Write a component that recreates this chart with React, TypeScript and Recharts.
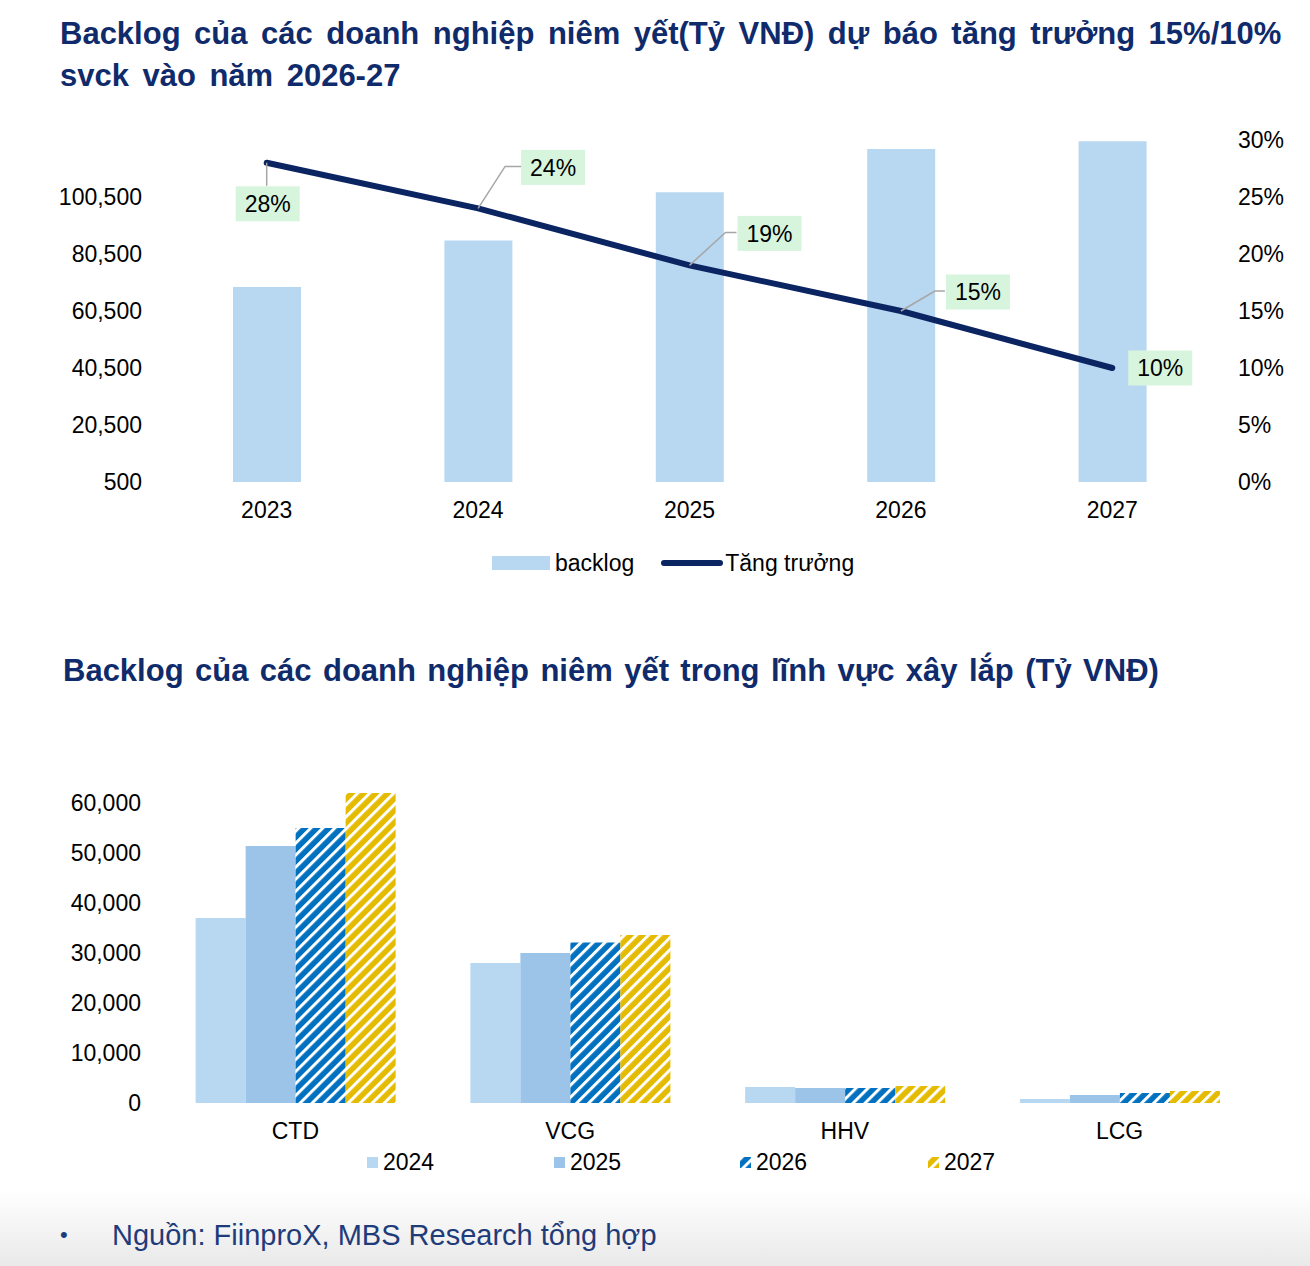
import {
  ComposedChart,
  BarChart,
  Bar,
  Line,
  XAxis,
  YAxis,
  LabelList,
} from "recharts";

// top chart data
const YEARS = ["2023", "2024", "2025", "2026", "2027"];
const BACKLOG = [68900, 85200, 102200, 117300, 120100];
const GROWTH = [28, 24, 19, 15, 10];
const LEFT_TICKS = [500, 20500, 40500, 60500, 80500, 100500];
const RIGHT_TICKS = [0, 5, 10, 15, 20, 25, 30];

// bottom chart data
const COMPANIES = ["CTD", "VCG", "HHV", "LCG"];
const Y2024 = [37000, 28000, 3200, 800];
const Y2025 = [51400, 30000, 3000, 1600];
const Y2026 = [55000, 32100, 3000, 2000];
const Y2027 = [62000, 33600, 3400, 2400];
const BOTTOM_TICKS = [0, 10000, 20000, 30000, 40000, 50000, 60000];

const FONT = "'Liberation Sans', Arial, sans-serif";
const NAVY = "#0f2b6b";
const LINE_NAVY = "#0b2563";
const LIGHT_BLUE = "#b8d7f0";
const MID_BLUE = "#9cc4e8";
const BLUE = "#0070c0";
const GOLD = "#e5bb00";

const topData = YEARS.map((year, i) => ({
  year,
  backlog: BACKLOG[i],
  growth: GROWTH[i],
}));

const bottomData = COMPANIES.map((name, i) => ({
  name,
  y2024: Y2024[i],
  y2025: Y2025[i],
  y2026: Y2026[i],
  y2027: Y2027[i],
}));

// where each growth label box sits relative to its point
const LABEL_LAYOUT = [
  { bx: 1, by: 41, leader: [[0, 0], [0, 23]] },
  { bx: 75, by: -41, leader: [[0, 0], [27, -42], [44, -42]] },
  { bx: 80, by: -32, leader: [[0, 0], [36, -33], [47, -33]] },
  { bx: 77, by: -19, leader: [[0, 0], [34, -20], [44, -20]] },
  { bx: 48, by: 0, leader: null },
];

const fmt = (v: number) => v.toLocaleString("en-US");

const GrowthLabel = (props: any) => {
  const { x, y, value, index } = props;
  const l = LABEL_LAYOUT[index];
  if (!l || x == null || y == null) return null;
  const w = 64;
  const h = 35;
  const cx = x + l.bx;
  const cy = y + l.by;
  return (
    <g>
      {l.leader && (
        <polyline
          points={l.leader.map((p) => `${x + p[0]},${y + p[1]}`).join(" ")}
          fill="none"
          stroke="#a6a6a6"
          strokeWidth={1.5}
        />
      )}
      <rect x={cx - w / 2} y={cy - h / 2} width={w} height={h} fill="#d7f5dd" />
      <text
        x={cx}
        y={cy}
        dy="0.36em"
        textAnchor="middle"
        fontSize={23}
        fontFamily={FONT}
        fill="#000"
      >
        {value}%
      </text>
    </g>
  );
};

const tickStyle = { fontSize: 23, fill: "#000", fontFamily: FONT };

const Swatch = ({ fill }: { fill: string }) => (
  <svg width={11} height={11} style={{ display: "block" }}>
    <rect width={11} height={11} fill={fill} />
  </svg>
);

const BOTTOM_LEGEND = [
  { label: "2024", fill: LIGHT_BLUE, left: 367 },
  { label: "2025", fill: MID_BLUE, left: 554 },
  { label: "2026", fill: "url(#hatchBlue)", left: 740 },
  { label: "2027", fill: "url(#hatchGold)", left: 928 },
];

const titleStyle = {
  position: "absolute" as const,
  fontSize: 31,
  lineHeight: "42px",
  fontWeight: 700,
  color: NAVY,
  whiteSpace: "nowrap" as const,
};

export default function App() {
  return (
    <div
      style={{
        position: "absolute",
        left: 0,
        top: 0,
        width: 1310,
        height: 1266,
        background: "#fff",
        fontFamily: FONT,
        overflow: "hidden",
      }}
    >
      <svg width={0} height={0} style={{ position: "absolute" }}>
        <defs>
          <pattern
            id="hatchBlue"
            patternUnits="userSpaceOnUse"
            width={8.5}
            height={8.5}
            patternTransform="rotate(45)"
          >
            <rect width={8.5} height={8.5} fill={BLUE} />
            <rect width={3} height={8.5} fill="#fff" />
          </pattern>
          <pattern
            id="hatchGold"
            patternUnits="userSpaceOnUse"
            width={8.5}
            height={8.5}
            patternTransform="rotate(45)"
          >
            <rect width={8.5} height={8.5} fill={GOLD} />
            <rect width={3} height={8.5} fill="#fff" />
          </pattern>
        </defs>
      </svg>

      <div style={{ ...titleStyle, left: 60, top: 13, wordSpacing: 4.9 }}>
        Backlog của các doanh nghiệp niêm yết(Tỷ VNĐ) dự báo tăng trưởng 15%/10%
        <br />
        svck vào năm 2026-27
      </div>

      <div style={{ position: "absolute", left: 0, top: 100 }}>
        <ComposedChart
          width={1310}
          height={440}
          data={topData}
          margin={{ top: 40, right: 0, bottom: 8, left: 0 }}
          barCategoryGap="34%"
        >
          <XAxis
            dataKey="year"
            axisLine={false}
            tickLine={false}
            tickSize={0}
            tickMargin={20}
            height={50}
            tick={tickStyle}
          />
          <YAxis
            yAxisId="left"
            orientation="left"
            domain={[500, 120500]}
            ticks={LEFT_TICKS}
            tickFormatter={fmt}
            axisLine={false}
            tickLine={false}
            tickSize={0}
            tickMargin={19}
            width={161}
            tick={tickStyle}
            interval={0}
          />
          <YAxis
            yAxisId="right"
            orientation="right"
            domain={[0, 30]}
            ticks={RIGHT_TICKS}
            tickFormatter={(v: number) => `${v}%`}
            axisLine={false}
            tickLine={false}
            tickSize={0}
            tickMargin={20}
            width={92}
            tick={tickStyle}
            interval={0}
          />
          <Bar
            yAxisId="left"
            dataKey="backlog"
            fill={LIGHT_BLUE}
            barSize={68}
            isAnimationActive={false}
          />
          <Line
            yAxisId="right"
            dataKey="growth"
            stroke={LINE_NAVY}
            strokeWidth={6}
            strokeLinecap="round"
            dot={false}
            activeDot={false}
            isAnimationActive={false}
          >
            <LabelList dataKey="growth" content={GrowthLabel} />
          </Line>
        </ComposedChart>
      </div>

      <div
        style={{
          position: "absolute",
          left: 492,
          top: 549,
          display: "flex",
          alignItems: "center",
          fontSize: 23,
          color: "#000",
          height: 28,
        }}
      >
        <div style={{ width: 58, height: 14, background: LIGHT_BLUE }} />
        <span style={{ marginLeft: 5 }}>backlog</span>
        <svg width={64} height={10} style={{ marginLeft: 26 }}>
          <line
            x1={4}
            y1={5}
            x2={60}
            y2={5}
            stroke={LINE_NAVY}
            strokeWidth={6}
            strokeLinecap="round"
          />
        </svg>
        <span style={{ marginLeft: 1 }}>Tăng trưởng</span>
      </div>

      <div style={{ ...titleStyle, left: 63, top: 650, wordSpacing: 2.8 }}>
        Backlog của các doanh nghiệp niêm yết trong lĩnh vực xây lắp (Tỷ VNĐ)
      </div>

      <div style={{ position: "absolute", left: 0, top: 740 }}>
        <BarChart
          width={1310}
          height={410}
          data={bottomData}
          margin={{ top: 13, right: 53, bottom: 7, left: 2 }}
          barCategoryGap="13.7%"
          barGap={0}
        >
          <XAxis
            dataKey="name"
            axisLine={false}
            tickLine={false}
            tickSize={0}
            tickMargin={20}
            height={40}
            tick={tickStyle}
          />
          <YAxis
            domain={[0, 70000]}
            ticks={BOTTOM_TICKS}
            tickFormatter={fmt}
            axisLine={false}
            tickLine={false}
            tickSize={0}
            tickMargin={17}
            width={156}
            tick={tickStyle}
            interval={0}
          />
          <Bar dataKey="y2024" fill={LIGHT_BLUE} isAnimationActive={false} />
          <Bar dataKey="y2025" fill={MID_BLUE} isAnimationActive={false} />
          <Bar dataKey="y2026" fill="url(#hatchBlue)" isAnimationActive={false} />
          <Bar dataKey="y2027" fill="url(#hatchGold)" isAnimationActive={false} />
        </BarChart>
      </div>

      {BOTTOM_LEGEND.map((item) => (
        <div
          key={item.label}
          style={{
            position: "absolute",
            left: item.left,
            top: 1148,
            height: 28,
            display: "flex",
            alignItems: "center",
            fontSize: 23,
            color: "#000",
          }}
        >
          <Swatch fill={item.fill} />
          <span style={{ marginLeft: 5 }}>{item.label}</span>
        </div>
      ))}

      <div
        style={{
          position: "absolute",
          left: 0,
          top: 1190,
          width: 1310,
          height: 76,
          background: "linear-gradient(#ffffff, #e9e9e9)",
        }}
      />
      <div
        style={{
          position: "absolute",
          left: 60,
          top: 1217,
          fontSize: 29,
          lineHeight: "36px",
          color: "#1f3c7a",
          whiteSpace: "nowrap",
          display: "flex",
        }}
      >
        <span style={{ width: 52, fontSize: 22 }}>•</span>
        <span>Nguồn: FiinproX, MBS Research tổng hợp</span>
      </div>
    </div>
  );
}
